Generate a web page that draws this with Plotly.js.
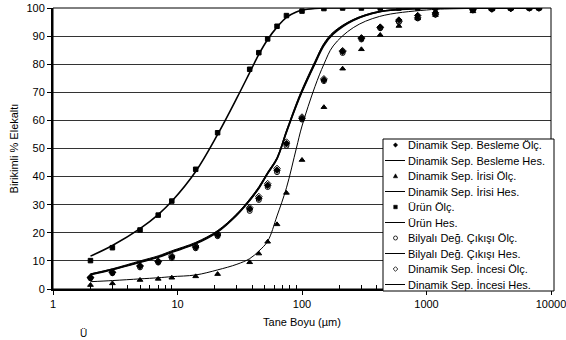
<!DOCTYPE html>
<html><head><meta charset="utf-8">
<script src="https://cdn.plot.ly/plotly-3.0.1.min.js"></script>
<style>html,body{margin:0;padding:0;background:#fff}</style>
</head><body><div id="chart" style="width:566px;height:340px"></div>
<script>
// ---- data ----
const measSize = [2,3,5,7,9,14,21,38,45,53,63,75,100,150,212,300,425,600,850,1180,2360,3350,4750,6700,8000];
const beslemeOlc = [4.0,5.9,8.1,9.7,11.4,14.9,19.2,28.5,32.3,36.9,42.3,51.7,60.7,74.4,84.5,89.2,93.2,95.7,97.3,98.3,99.4,99.7,99.9,100,100];
const irisiOlc   = [1.4,2.0,3.2,3.6,4.0,4.5,5.3,9.5,12.6,16.8,23.0,34.2,45.9,64.7,78.4,85.3,90.4,93.6,96.3,97.5,98.8,99.5,99.8,100,100];
const urunOlc    = [10.1,14.7,21.0,26.3,31.3,42.6,55.6,78.2,84.1,89.0,93.5,97.3,98.9,99.8,100,100,100,100,100,100,100,100,100,100,100];
const bilyaliOlc = [3.8,5.6,7.7,9.4,11.0,14.5,18.8,27.8,31.7,36.3,41.6,51.0,60.3,74.0,84.0,88.8,92.8,95.0,96.3,97.6,99.2,99.6,99.8,100,100];
const incesiOlc  = [4.2,6.0,8.3,9.9,11.8,15.3,19.6,29.0,32.9,37.5,42.9,52.3,61.2,74.8,84.8,89.4,93.0,95.2,96.5,97.8,99.3,99.6,99.8,100,100];

const calcSize   = [2,3,5,7,9,14,21,30,38,45,53,63,75,90,100,127,150,178,258,420,1000,2000,8000];
const beslemeHes = [5.2,7.0,9.7,11.5,13.3,16.3,20.5,26.5,31.7,36.0,41.2,46.5,56.0,65.5,70.5,80.5,87.0,91.0,95.7,98.7,99.9,100,100];
const irisiHes   = [2.6,3.0,3.6,4.0,4.4,5.0,6.8,8.8,10.8,13.5,17.0,26.0,36.0,50.0,58.0,72.0,80.0,86.5,93.0,97.0,99.3,99.8,100];
const urunHes    = [11.7,15.5,21.5,26.5,31.2,41.8,55.0,68.0,77.0,83.5,88.8,93.2,96.7,98.6,99.2,99.8,100,100,100,100,100,100,100];
const bilyaliHes = [5.0,6.8,9.4,11.2,13.0,16.0,20.2,26.2,31.4,35.7,41.0,46.2,55.6,65.0,70.0,80.0,86.5,90.6,95.5,98.6,99.9,100,100];
const incesiHes  = [5.4,7.2,10.0,11.8,13.6,16.6,20.8,26.8,32.0,36.4,41.6,46.8,56.4,66.0,71.0,81.0,87.4,91.4,95.9,98.8,99.9,100,100];

const seriesNames = ["Dinamik Sep. Besleme Ölç.","Dinamik Sep. Besleme Hes.","Dinamik Sep. İrisi Ölç.","Dinamik Sep. İrisi Hes.","Ürün Ölç.","Ürün Hes.","Bilyalı Değ. Çıkışı Ölç.","Bilyalı Değ. Çıkışı Hes.","Dinamik Sep. İncesi Ölç.","Dinamik Sep. İncesi Hes."];
const xTickVals = [1,10,100,1000,10000];
const xTickText = ["1","10","100","1000","10000"];
const xTitle = "Tane Boyu (µm)";
const yTitle = "Birikimli % Elekaltı";
const captionFragment = "Ü";

// ---- traces ----
const F = "Liberation Sans, Arial, sans-serif";
function lineTr(y, name, w){ return {x: calcSize, y: y, name: name, mode:'lines', line:{color:'#000', width:w, shape:'spline', smoothing:1}, showlegend:false, hoverinfo:'skip'}; }
function markTr(y, name, sym, size){ return {x: measSize, y: y, name: name, mode:'markers', marker:{symbol:sym, size:size, color:'#000', line:{color:'#000', width:1}}, showlegend:false}; }
const traces = [
  lineTr(beslemeHes, seriesNames[1], 1.6),
  lineTr(irisiHes, seriesNames[3], 1),
  lineTr(urunHes, seriesNames[5], 1.6),
  lineTr(bilyaliHes, seriesNames[7], 1.2),
  lineTr(incesiHes, seriesNames[9], 1),
  markTr(beslemeOlc, seriesNames[0], 'diamond', 5),
  markTr(irisiOlc, seriesNames[2], 'triangle-up', 5),
  markTr(urunOlc, seriesNames[4], 'square', 4.5),
  markTr(bilyaliOlc, seriesNames[6], 'circle-open', 5),
  markTr(incesiOlc, seriesNames[8], 'diamond-open', 5)
];

// ---- layout geometry ----
const L=53, R=551, T=8, B=289;
const px2x = p => (p-L)/(R-L);
const px2y = p => (B-p)/(B-T);

const minorVals = [];
[1,10,100,1000].forEach(d => { for (let k=2;k<=9;k++) minorVals.push(d*k); });

const shapes = [
  {type:'rect', xref:'paper', yref:'paper', x0:0, x1:1, y0:0, y1:1, line:{color:'#000', width:1}, layer:'above'},
  {type:'rect', xref:'paper', yref:'paper', x0:px2x(383), x1:px2x(554), y0:px2y(291), y1:px2y(139), fillcolor:'#fff', line:{color:'#000', width:1}, layer:'above'}
];
const annotations = [];
const kinds = ['diamond','line','triangle','line','square','line','circle','line','diamondOpen','line'];
kinds.forEach((k,i) => {
  const yc = px2y(145 + 15.5*i);
  const xc = px2x(395.5);
  if (k==='line') {
    shapes.push({type:'line', xref:'paper', yref:'paper', x0:px2x(385), x1:px2x(405), y0:yc, y1:yc, line:{color:'#000', width:1}, layer:'above'});
  } else {
    const base = {xref:'paper', yref:'paper', xsizemode:'pixel', ysizemode:'pixel', xanchor:xc, yanchor:yc, layer:'above'};
    if (k==='square') shapes.push(Object.assign({type:'rect', x0:-1.8, x1:1.8, y0:-1.8, y1:1.8, fillcolor:'#000', line:{color:'#000', width:0.5}}, base));
    if (k==='circle') shapes.push(Object.assign({type:'circle', x0:-2, x1:2, y0:-2, y1:2, fillcolor:'#fff', line:{color:'#000', width:0.8}}, base));
    if (k==='diamond') shapes.push(Object.assign({type:'path', path:'M 0 2.2 L 2.2 0 L 0 -2.2 L -2.2 0 Z', fillcolor:'#000', line:{color:'#000', width:0.5}}, base));
    if (k==='diamondOpen') shapes.push(Object.assign({type:'path', path:'M 0 2.3 L 2.3 0 L 0 -2.3 L -2.3 0 Z', fillcolor:'#fff', line:{color:'#000', width:0.8}}, base));
    if (k==='triangle') shapes.push(Object.assign({type:'path', path:'M -2.2 -1.8 L 2.2 -1.8 L 0 2.2 Z', fillcolor:'#000', line:{color:'#000', width:0.5}}, base));
  }
  annotations.push({xref:'paper', yref:'paper', x:px2x(407), y:yc, xanchor:'left', yanchor:'middle', text:seriesNames[i], showarrow:false, font:{family:F, size:11, color:'#000'}, borderpad:0});
});
annotations.push({xref:'paper', yref:'paper', x:px2x(83), y:px2y(340), xanchor:'center', yanchor:'bottom', text:captionFragment, showarrow:false, font:{family:F, size:10, color:'#000'}, borderpad:0});

const layout = {
  width:566, height:340,
  margin:{l:L, r:566-R, t:T, b:340-B, pad:0},
  paper_bgcolor:'#fff', plot_bgcolor:'#fff',
  font:{family:F, size:11, color:'#000'},
  showlegend:false,
  xaxis:{type:'log', range:[0,4], tickvals:xTickVals, ticktext:xTickText, ticks:'outside', ticklen:4, tickcolor:'#000', tickwidth:1,
    ticklabeloverflow:'allow',
    minor:{tickvals:minorVals, ticks:'inside', ticklen:4, tickcolor:'#000', tickwidth:1, showgrid:false},
    showgrid:false, zeroline:false, showline:true, linecolor:'#000', linewidth:2,
    tickfont:{family:F, size:11}, title:{text:xTitle, font:{family:F, size:11}, standoff:9}},
  yaxis:{range:[0,100], dtick:10, ticks:'outside', ticklen:4, tickcolor:'#000', tickwidth:1,
    showgrid:true, gridcolor:'#333', gridwidth:1, zeroline:false, showline:true, linecolor:'#000', linewidth:2,
    tickfont:{family:F, size:11}, title:{text:yTitle, font:{family:F, size:11}, standoff:6}},
  shapes:shapes, annotations:annotations
};
Plotly.newPlot('chart', traces, layout, {displayModeBar:false, staticPlot:true});
</script></body></html>
